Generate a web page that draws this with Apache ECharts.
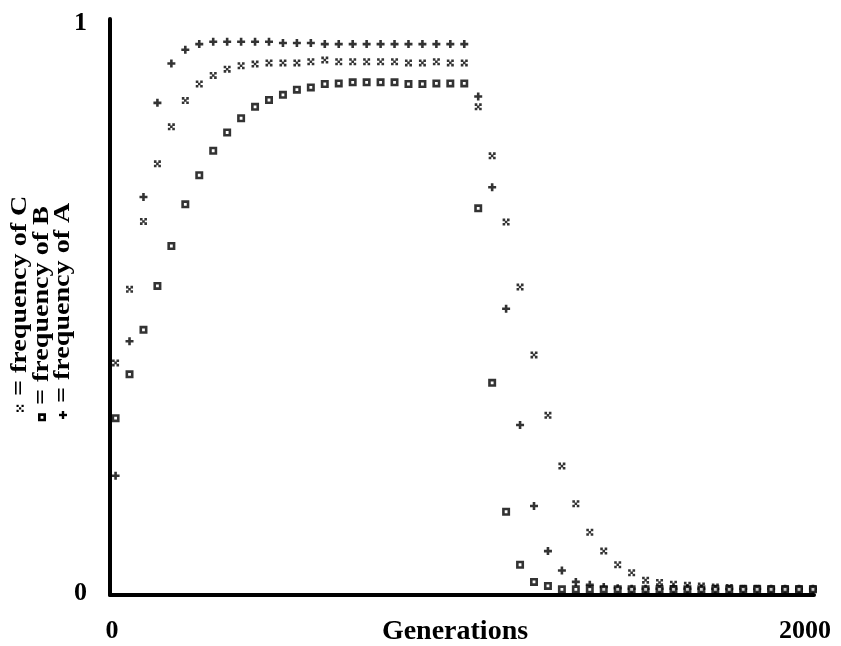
<!DOCTYPE html>
<html>
<head>
<meta charset="utf-8">
<script src="https://cdn.jsdelivr.net/npm/echarts@6/dist/echarts.min.js"></script>
<style>
  html, body { margin: 0; padding: 0; background: #fff; }
  #chart { width: 841px; height: 646px; }
</style>
</head>
<body>
<div id="chart"></div>
<script>
// Sampled generations (every 40 generations)
const generations = [0, 40, 80, 120, 160, 200, 240, 280, 320, 360, 400, 440, 480, 520, 560, 600, 640, 680, 720, 760,
  800, 840, 880, 920, 960, 1000, 1040, 1080, 1120, 1160, 1200, 1240, 1280, 1320, 1360, 1400, 1440, 1480, 1520, 1560,
  1600, 1640, 1680, 1720, 1760, 1800, 1840, 1880, 1920, 1960, 2000];

// Allele frequencies per sampled generation
const freqA = [0.199, 0.435, 0.688, 0.853, 0.922, 0.946, 0.956, 0.960, 0.960, 0.960, 0.960, 0.960, 0.958, 0.958, 0.958,
  0.956, 0.956, 0.956, 0.956, 0.956, 0.956, 0.956, 0.956, 0.956, 0.956, 0.956,
  0.864, 0.705, 0.492, 0.288, 0.146, 0.067, 0.033, 0.013, 0.008, 0.004, 0.002,
  0.001, 0.001, 0.001, 0.001, 0.001, 0.001, 0.001, 0.001, 0.001, 0.001, 0.001, 0.001, 0.001, 0.001];

const freqB = [0.300, 0.377, 0.455, 0.532, 0.602, 0.675, 0.726, 0.769, 0.801, 0.826, 0.846, 0.858, 0.867, 0.876, 0.880,
  0.886, 0.887, 0.889, 0.889, 0.889, 0.889, 0.886, 0.886, 0.887, 0.887, 0.887,
  0.668, 0.362, 0.136, 0.043, 0.013, 0.006,
  0, 0, 0, 0, 0, 0, 0, 0, 0, 0, 0, 0, 0, 0, 0, 0, 0, 0, 0];

const freqC = [0.397, 0.526, 0.645, 0.746, 0.811, 0.857, 0.886, 0.901, 0.912, 0.918, 0.921, 0.923, 0.923, 0.923, 0.925,
  0.928, 0.925, 0.925, 0.925, 0.925, 0.925, 0.923, 0.923, 0.925, 0.923, 0.923,
  0.846, 0.760, 0.644, 0.530, 0.411, 0.305, 0.216, 0.150, 0.100, 0.067, 0.043, 0.029, 0.016, 0.012, 0.009,
  0.007, 0.006, 0.004, 0.003, 0.002, 0.002, 0.001, 0.001, 0.001, 0.001];

const xTickValues = [0, 2000];
const xTickLabels = ['0', '2000'];
const yTickValues = [0, 1];
const yTickLabels = ['0', '1'];
const xAxisTitle = 'Generations';
const legendLabels = { C: '= frequency of C', B: '= frequency of B', A: '= frequency of A' };

const FONT = '"Liberation Serif", "DejaVu Serif", serif';

// Marker shapes
const PLUS = 'path://M2.7,0H5.3V2.7H8V5.3H5.3V8H2.7V5.3H0V2.7H2.7Z';
const DOTS = 'path://M0,0H2.6V2.6H0Z M4.4,0H7V2.6H4.4Z M2.2,2.2H4.8V4.8H2.2Z M0,4.4H2.6V7H0Z M4.4,4.4H7V7H4.4Z';

function pairs(ys) { return generations.map((g, i) => [g, ys[i]]); }

// Legend marker drawings (local coordinates, drawn inside a rotated group)
function plusMarker() {
  return [
    { type: 'rect', shape: { x: 0, y: -1.2, width: 8, height: 2.4 }, style: { fill: '#000' } },
    { type: 'rect', shape: { x: 2.8, y: -4, width: 2.4, height: 8 }, style: { fill: '#000' } }
  ];
}
function dotsMarker() {
  const d = [[0, -3.5], [5, -3.5], [2.5, -1], [0, 1.5], [5, 1.5]];
  return d.map(p => ({ type: 'rect', shape: { x: p[0], y: p[1], width: 2.2, height: 2.2 }, style: { fill: '#000' } }));
}
function squareMarker() {
  return [{ type: 'rect', shape: { x: 1, y: -2.7, width: 5.4, height: 5.4 }, style: { fill: '#fff', stroke: '#000', lineWidth: 2.6 } }];
}
function legendLine(x, y, marker, label) {
  return {
    type: 'group', x: x, y: y, rotation: Math.PI / 2,
    children: marker.concat([{
      type: 'text', x: 16, y: 0, scaleX: 1.08, scaleY: 0.88,
      style: { text: label, font: 'bold 26px ' + FONT, fill: '#000', textAlign: 'left', textVerticalAlign: 'middle' }
    }])
  };
}

const chart = echarts.init(document.getElementById('chart'), null, { renderer: 'canvas' });

chart.setOption({
  animation: false,
  backgroundColor: '#fff',
  grid: { left: 110, right: 27, top: 19, bottom: 51, containLabel: false, outerBoundsMode: 'none' },
  xAxis: {
    type: 'value', min: -16, max: 2003,
    name: xAxisTitle, nameLocation: 'middle', nameGap: 23, nameMoveOverlap: false,
    nameTextStyle: { fontFamily: FONT, fontWeight: 'bold', fontSize: 28, color: '#000', padding: [0, 14, 0, 0] },
    axisLine: { onZero: false, lineStyle: { color: '#000', width: 4 } },
    axisTick: { show: false },
    splitLine: { show: false },
    axisLabel: {
      customValues: xTickValues, margin: 23,
      formatter: v => (v === xTickValues[0] ? '{a|' + xTickLabels[0] + '}' : '{b|' + xTickLabels[1] + '}'),
      rich: {
        a: { fontFamily: FONT, fontWeight: 'bold', fontSize: 26, color: '#000', padding: [0, 7, 0, 0] },
        b: { fontFamily: FONT, fontWeight: 'bold', fontSize: 26, color: '#000', padding: [0, 16, 0, 0] }
      }
    }
  },
  yAxis: {
    type: 'value', min: -0.01, max: 1,
    axisLine: { onZero: false, lineStyle: { color: '#000', width: 4 } },
    axisTick: { show: false },
    splitLine: { show: false },
    axisLabel: {
      customValues: yTickValues, margin: 23,
      formatter: v => '{a|' + (v === yTickValues[0] ? yTickLabels[0] : yTickLabels[1]) + '}',
      rich: { a: { fontFamily: FONT, fontWeight: 'bold', fontSize: 26, color: '#000', padding: [8, 0, 0, 0] } }
    }
  },
  series: [
    { name: 'C', type: 'scatter', data: pairs(freqC), symbol: DOTS, symbolSize: 7, itemStyle: { color: '#000' }, silent: true },
    { name: 'A', type: 'scatter', data: pairs(freqA), symbol: PLUS, symbolSize: 8, itemStyle: { color: '#000' }, silent: true },
    { name: 'B', type: 'scatter', data: pairs(freqB), symbol: 'rect', symbolSize: 5.4,
      itemStyle: { color: '#fff', borderColor: '#000', borderWidth: 2.6 }, silent: true }
  ],
  graphic: [
    legendLine(20, 412, dotsMarker(), legendLabels.C),
    legendLine(42, 421, squareMarker(), legendLabels.B),
    legendLine(63, 419, plusMarker(), legendLabels.A)
  ]
});
</script>
</body>
</html>
